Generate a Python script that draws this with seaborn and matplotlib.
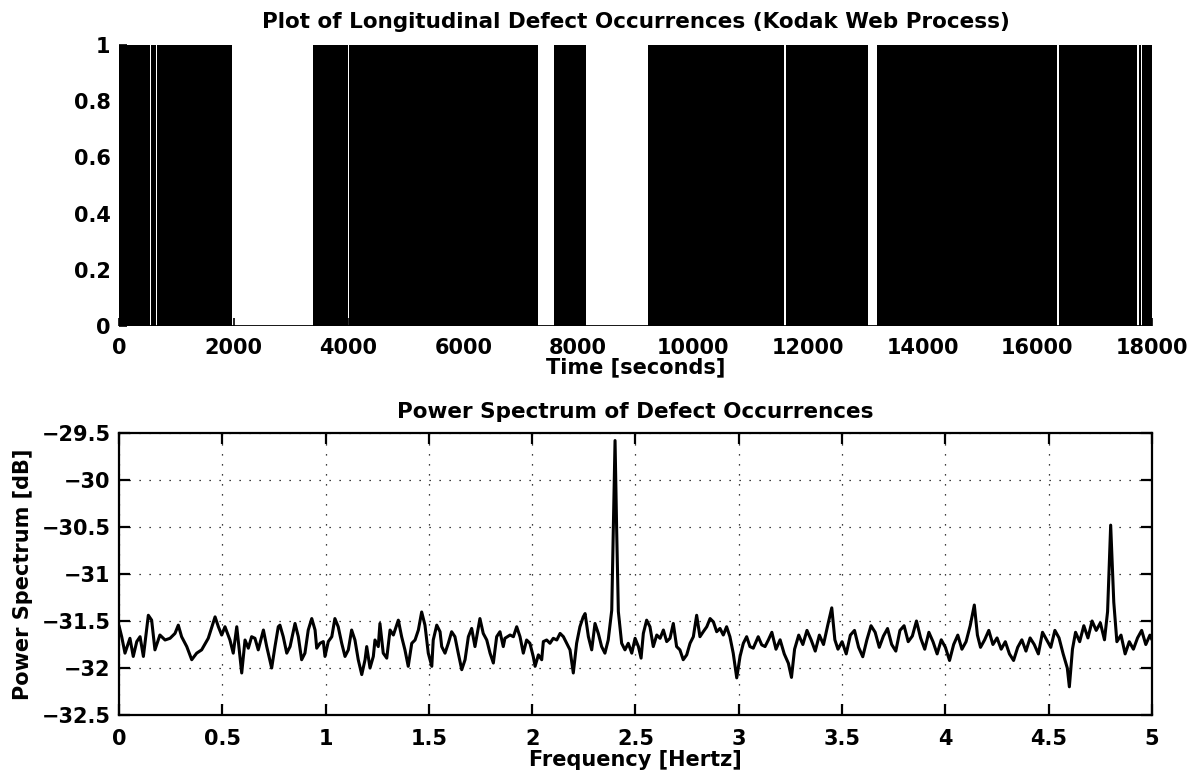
import numpy as np
import matplotlib
matplotlib.use("Agg")
import matplotlib.pyplot as plt
import seaborn as sns

# ---------------- data ----------------
# Top panel: intervals [start, end] (seconds) where defects are densely recorded (black)
block_start = [0, 560, 660, 3385, 4010, 7578, 9215, 11615, 13204, 16375, 17765, 17830]
block_end = [545, 640, 1963, 3990, 7300, 8135, 11595, 13048, 16345, 17735, 17805, 18000]
time_range = [0, 18000]
baseline = [0, 0]

# Bottom panel: power spectrum
freq = [0.000, 0.013, 0.029, 0.053, 0.069, 0.086, 0.102, 0.118, 0.142, 0.158, 0.174, 0.198,
        0.223, 0.247, 0.271, 0.287, 0.303, 0.328, 0.352, 0.376, 0.400, 0.432, 0.465, 0.481,
        0.497, 0.513, 0.537, 0.553, 0.570, 0.594, 0.610, 0.626, 0.642, 0.658, 0.674, 0.699,
        0.715, 0.739, 0.755, 0.771, 0.779, 0.795, 0.812, 0.828, 0.852, 0.868, 0.884, 0.900,
        0.916, 0.933, 0.949, 0.957, 0.973, 0.989, 0.997, 1.013, 1.030, 1.045, 1.061, 1.078,
        1.094, 1.110, 1.126, 1.142, 1.158, 1.175, 1.191, 1.199, 1.215, 1.231, 1.239, 1.255,
        1.263, 1.279, 1.296, 1.312, 1.328, 1.352, 1.368, 1.384, 1.400, 1.417, 1.433, 1.449,
        1.465, 1.481, 1.497, 1.514, 1.521, 1.538, 1.554, 1.562, 1.578, 1.594, 1.610, 1.626,
        1.642, 1.659, 1.675, 1.691, 1.707, 1.723, 1.747, 1.763, 1.780, 1.796, 1.812, 1.828,
        1.844, 1.860, 1.868, 1.893, 1.909, 1.925, 1.941, 1.957, 1.973, 1.989, 2.005, 2.014,
        2.030, 2.046, 2.054, 2.070, 2.086, 2.102, 2.119, 2.135, 2.151, 2.167, 2.183, 2.199,
        2.215, 2.231, 2.247, 2.256, 2.272, 2.288, 2.304, 2.320, 2.336, 2.352, 2.368, 2.385,
        2.393, 2.401, 2.409, 2.417, 2.433, 2.449, 2.465, 2.482, 2.498, 2.514, 2.527, 2.538,
        2.554, 2.570, 2.586, 2.603, 2.619, 2.635, 2.651, 2.667, 2.683, 2.699, 2.715, 2.731,
        2.748, 2.764, 2.780, 2.796, 2.812, 2.828, 2.845, 2.861, 2.877, 2.893, 2.909, 2.925,
        2.941, 2.957, 2.973, 2.990, 3.006, 3.022, 3.038, 3.054, 3.070, 3.094, 3.111, 3.127,
        3.143, 3.160, 3.180, 3.200, 3.220, 3.240, 3.255, 3.270, 3.290, 3.310, 3.330, 3.350,
        3.370, 3.390, 3.410, 3.430, 3.450, 3.465, 3.480, 3.500, 3.520, 3.540, 3.560, 3.580,
        3.600, 3.620, 3.640, 3.660, 3.680, 3.700, 3.720, 3.740, 3.760, 3.780, 3.800, 3.820,
        3.840, 3.860, 3.880, 3.900, 3.920, 3.940, 3.960, 3.980, 4.000, 4.020, 4.040, 4.060,
        4.080, 4.100, 4.120, 4.140, 4.155, 4.170, 4.190, 4.210, 4.230, 4.250, 4.270, 4.290,
        4.310, 4.330, 4.350, 4.370, 4.390, 4.410, 4.430, 4.450, 4.470, 4.490, 4.510, 4.530,
        4.550, 4.570, 4.590, 4.600, 4.615, 4.630, 4.650, 4.670, 4.690, 4.710, 4.730, 4.750,
        4.770, 4.785, 4.800, 4.815, 4.830, 4.850, 4.870, 4.890, 4.910, 4.930, 4.950, 4.970,
        4.990, 5.000]
power_db = [-31.550, -31.667, -31.842, -31.684, -31.877, -31.719, -31.667, -31.877, -31.439, -31.491, -31.807, -31.649,
            -31.702, -31.684, -31.632, -31.544, -31.667, -31.772, -31.912, -31.842, -31.807, -31.684, -31.456, -31.561,
            -31.649, -31.561, -31.702, -31.842, -31.561, -32.053, -31.702, -31.789, -31.667, -31.684, -31.807, -31.596,
            -31.772, -32.000, -31.772, -31.561, -31.544, -31.667, -31.842, -31.772, -31.526, -31.667, -31.912, -31.842,
            -31.596, -31.474, -31.596, -31.789, -31.737, -31.719, -31.877, -31.719, -31.667, -31.474, -31.561, -31.737,
            -31.877, -31.807, -31.596, -31.702, -31.912, -32.070, -31.912, -31.772, -32.000, -31.877, -31.702, -31.772,
            -31.526, -31.842, -31.895, -31.596, -31.649, -31.491, -31.667, -31.807, -31.982, -31.737, -31.702, -31.596,
            -31.404, -31.544, -31.842, -31.982, -31.702, -31.544, -31.614, -31.772, -31.842, -31.737, -31.614, -31.667,
            -31.842, -32.018, -31.912, -31.667, -31.579, -31.772, -31.474, -31.632, -31.702, -31.842, -31.947, -31.667,
            -31.614, -31.772, -31.684, -31.649, -31.667, -31.561, -31.667, -31.842, -31.702, -31.737, -31.877, -31.982,
            -31.860, -31.912, -31.719, -31.702, -31.737, -31.684, -31.702, -31.632, -31.667, -31.737, -31.807, -32.053,
            -31.737, -31.561, -31.456, -31.421, -31.667, -31.807, -31.526, -31.632, -31.772, -31.842, -31.702, -31.386,
            -30.500, -29.580, -30.550, -31.400, -31.737, -31.807, -31.737, -31.842, -31.684, -31.772, -31.895, -31.632,
            -31.491, -31.561, -31.772, -31.649, -31.684, -31.596, -31.719, -31.684, -31.526, -31.772, -31.807, -31.912,
            -31.860, -31.737, -31.667, -31.439, -31.667, -31.614, -31.561, -31.474, -31.509, -31.614, -31.579, -31.649,
            -31.561, -31.667, -31.842, -32.105, -31.877, -31.737, -31.667, -31.772, -31.789, -31.667, -31.754, -31.772,
            -31.702, -31.620, -31.800, -31.700, -31.850, -31.950, -32.100, -31.800, -31.650, -31.750, -31.600, -31.700,
            -31.820, -31.650, -31.750, -31.550, -31.360, -31.700, -31.800, -31.720, -31.850, -31.650, -31.600, -31.780,
            -31.880, -31.700, -31.550, -31.620, -31.780, -31.660, -31.580, -31.750, -31.820, -31.600, -31.550, -31.720,
            -31.660, -31.500, -31.680, -31.800, -31.620, -31.720, -31.850, -31.700, -31.780, -31.920, -31.750, -31.650,
            -31.800, -31.720, -31.550, -31.330, -31.650, -31.780, -31.700, -31.600, -31.750, -31.680, -31.800, -31.720,
            -31.850, -31.920, -31.780, -31.700, -31.820, -31.680, -31.750, -31.850, -31.620, -31.700, -31.780, -31.600,
            -31.680, -31.850, -32.000, -32.200, -31.800, -31.620, -31.720, -31.550, -31.680, -31.500, -31.600, -31.520,
            -31.700, -31.400, -30.480, -31.300, -31.720, -31.650, -31.850, -31.720, -31.800, -31.680, -31.600, -31.750,
            -31.650, -31.700]

time_ticks = [0, 2000, 4000, 6000, 8000, 10000, 12000, 14000, 16000, 18000]
occ_ticks = [0, 0.2, 0.4, 0.6, 0.8, 1]
freq_ticks = [0, 0.5, 1, 1.5, 2, 2.5, 3, 3.5, 4, 4.5, 5]
db_ticks = [-32.5, -32, -31.5, -31, -30.5, -30, -29.5]

# ---------------- style ----------------
sns.set_theme(style="white")
plt.rcParams['font.family'] = ['DejaVu Sans']
plt.rcParams['font.weight'] = 'bold'
plt.rcParams['text.color'] = 'black'
plt.rcParams['axes.labelcolor'] = 'black'
plt.rcParams['xtick.color'] = 'black'
plt.rcParams['ytick.color'] = 'black'
FS = 15

fig = plt.figure(figsize=(12.02, 7.76), dpi=100)
ax1 = fig.add_axes([0.099, 0.5799, 0.8594, 0.3621])
ax2 = fig.add_axes([0.099, 0.0786, 0.8594, 0.3634])

# ---------------- top panel ----------------
widths = [e - s for s, e in zip(block_start, block_end)]
ax1.bar(block_start, [1] * len(block_start), width=widths, align='edge',
        color='black', edgecolor='none', linewidth=0)
ax1.plot(time_range, baseline, color='black', linewidth=2)
ax1.set_xlim(time_range)
ax1.set_ylim(0, 1)
for sp in ax1.spines.values():
    sp.set_visible(False)
ax1.set_xticks(time_ticks)
ax1.set_xticklabels([str(t) for t in time_ticks])
ax1.set_yticks(occ_ticks)
ax1.set_yticklabels(['0', '0.2', '0.4', '0.6', '0.8', '1'])
ax1.tick_params(axis='both', direction='in', length=6, width=1.2, colors='black',
                labelsize=FS, bottom=True, left=True)
ax1.tick_params(axis='x', pad=9)
ax1.tick_params(axis='y', pad=6)
ax1.set_xlabel('Time [seconds]', fontsize=FS, fontweight='bold', labelpad=-1, color='black')
ax1.set_title('Plot of Longitudinal Defect Occurrences (Kodak Web Process)',
              fontsize=15.5, fontweight='bold', pad=12, color='black')

# ---------------- bottom panel ----------------
sns.lineplot(x=freq, y=power_db, ax=ax2, color='black', linewidth=2.2,
             estimator=None, sort=False)
ax2.set_xlim(0, 5)
ax2.set_ylim(-32.5, -29.5)
ax2.set_xticks(freq_ticks)
ax2.set_xticklabels(['0', '0.5', '1', '1.5', '2', '2.5', '3', '3.5', '4', '4.5', '5'])
ax2.set_yticks(db_ticks)
ax2.set_yticklabels(['\u221232.5', '\u221232', '\u221231.5', '\u221231', '\u221230.5', '\u221230', '\u221229.5'])
ax2.grid(True, color='black', linestyle=(0, (1, 7)), linewidth=0.9)
for sp in ax2.spines.values():
    sp.set_visible(True)
    sp.set_color('black')
    sp.set_linewidth(1.6)
ax2.tick_params(axis='both', direction='in', length=8, width=1.6, colors='black',
                labelsize=FS, bottom=True, top=True, left=True, right=True)
ax2.tick_params(axis='x', pad=10)
ax2.tick_params(axis='y', pad=6)
ax2.set_xlabel('Frequency [Hertz]', fontsize=FS, fontweight='bold', labelpad=1, color='black')
ax2.set_ylabel('Power Spectrum [dB]', fontsize=FS, fontweight='bold', labelpad=6, color='black')
ax2.set_title('Power Spectrum of Defect Occurrences', fontsize=15.5, fontweight='bold', pad=11,
              color='black')

fig.savefig('out.png', dpi=100, facecolor='white')
